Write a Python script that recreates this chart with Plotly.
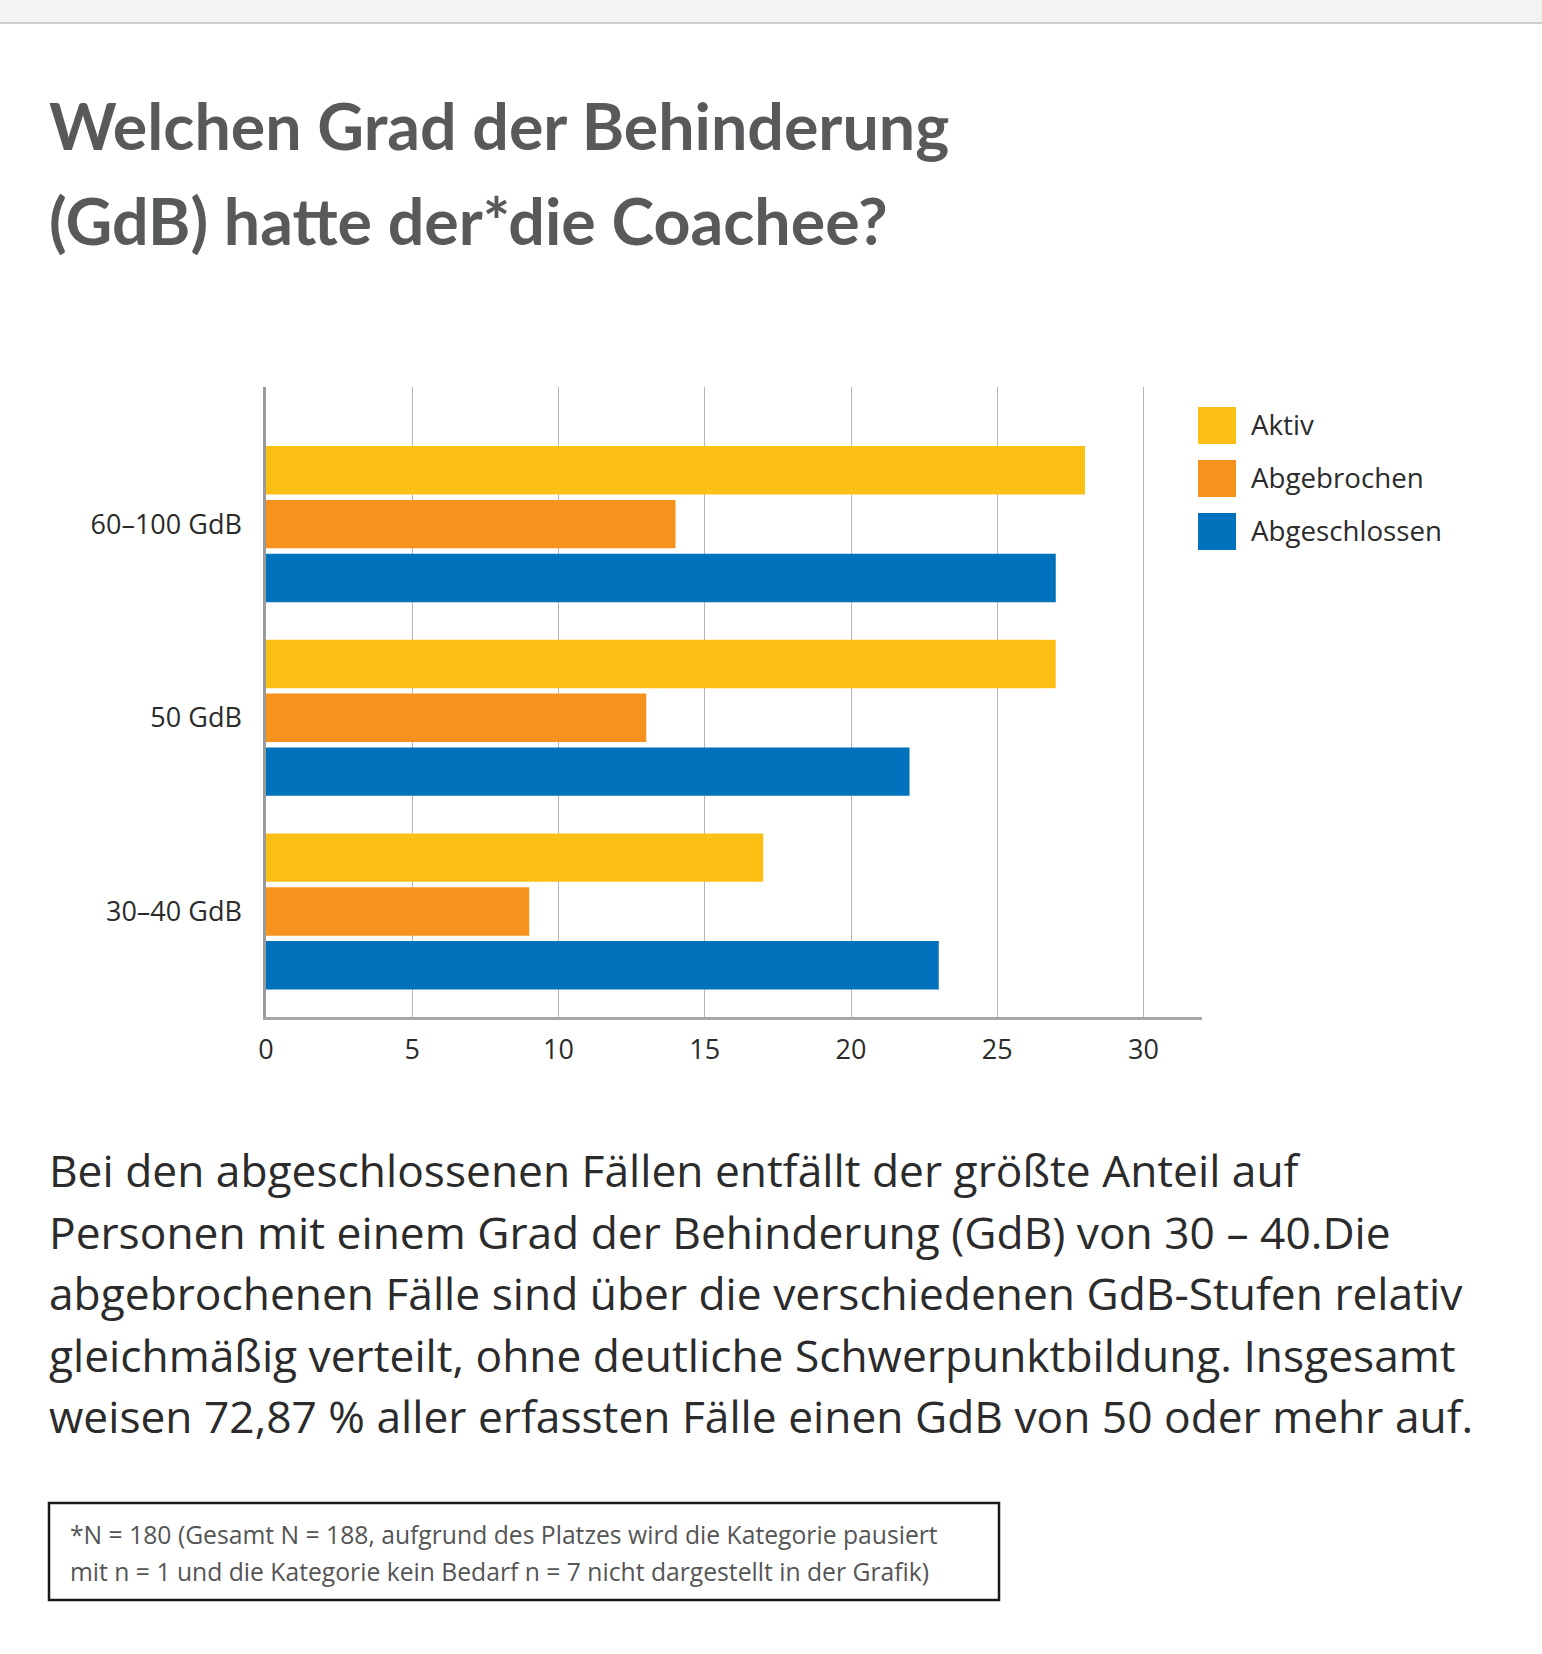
import plotly.graph_objects as go

categories = ["30–40 GdB", "50 GdB", "60–100 GdB"]
aktiv = [17, 27, 28]
abgebrochen = [9, 13, 14]
abgeschlossen = [23, 22, 27]
series_names = ["Aktiv", "Abgebrochen", "Abgeschlossen"]
series_colors = ["#fcc014", "#f6921e", "#0072bc"]
x_ticks = [0, 5, 10, 15, 20, 25, 30]

title_lines = ["Welchen Grad der Behinderung", "(GdB) hatte der*die Coachee?"]
body_lines = [
    "Bei den abgeschlossenen Fällen entfällt der größte Anteil auf",
    "Personen mit einem Grad der Behinderung (GdB) von 30 – 40.Die",
    "abgebrochenen Fälle sind über die verschiedenen GdB-Stufen relativ",
    "gleichmäßig verteilt, ohne deutliche Schwerpunktbildung. Insgesamt",
    "weisen 72,87 % aller erfassten Fälle einen GdB von 50 oder mehr auf.",
]
note_lines = [
    "*N = 180 (Gesamt N = 188, aufgrund des Platzes wird die Kategorie pausiert",
    "mit n = 1 und die Kategorie kein Bedarf n = 7 nicht dargestellt in der Grafik)",
]

W, H = 1542, 1654
L, R, T, B = 266, 340, 387, 637
PW, PH = W - L - R, H - T - B
FONT = "Open Sans"
TFONT = "Lato"


def px(x):
    return (x - L) / PW


def py(y):
    return (H - B - y) / PH


values = {"Aktiv": aktiv, "Abgebrochen": abgebrochen, "Abgeschlossen": abgeschlossen}
fig = go.Figure()
for name, color in reversed(list(zip(series_names, series_colors))):
    fig.add_trace(go.Bar(
        y=categories, x=values[name], name=name, orientation="h",
        marker=dict(color=color, line=dict(width=0)), showlegend=False,
    ))

shapes = []
annotations = []

# top grey strip
shapes.append(dict(type="rect", xref="paper", yref="paper", x0=px(0), x1=px(W),
                   y0=py(23), y1=py(0), fillcolor="#f3f3f3", line=dict(width=0), layer="below"))
shapes.append(dict(type="line", xref="paper", yref="paper", x0=px(0), x1=px(W),
                   y0=py(23), y1=py(23), line=dict(color="#cfcfcf", width=2)))

# title
for i, t in enumerate(title_lines):
    annotations.append(dict(text=t, xref="paper", yref="paper", x=px(47), y=py(125 + 95 * i),
                            xanchor="left", yanchor="middle", showarrow=False,
                            font=dict(family=TFONT, size=64.5, color="#58595b", weight="bold")))

# legend
for i, (name, color) in enumerate(zip(series_names, series_colors)):
    y0 = 407 + 53 * i
    shapes.append(dict(type="rect", xref="paper", yref="paper", x0=px(1198), x1=px(1236),
                       y0=py(y0 + 37), y1=py(y0), fillcolor=color, line=dict(width=0)))
    annotations.append(dict(text=name, xref="paper", yref="paper", x=px(1249), y=py(y0 + 17),
                            xanchor="left", yanchor="middle", showarrow=False,
                            font=dict(family=FONT, size=27.7, color="#2b2b2b")))

# body text
for i, t in enumerate(body_lines):
    annotations.append(dict(text=t, xref="paper", yref="paper", x=px(47), y=py(1170 + 61.5 * i),
                            xanchor="left", yanchor="middle", showarrow=False,
                            font=dict(family=FONT, size=44.3, color="#2b2b2b")))

# footnote box
shapes.append(dict(type="rect", xref="paper", yref="paper", x0=px(49), x1=px(999),
                   y0=py(1600), y1=py(1503), line=dict(color="#1a1a1a", width=2.5)))
for i, t in enumerate(note_lines):
    annotations.append(dict(text=t, xref="paper", yref="paper", x=px(68), y=py(1534 + 37 * i),
                            xanchor="left", yanchor="middle", showarrow=False,
                            font=dict(family=FONT, size=24.7, color="#555555")))

fig.update_layout(
    width=W, height=H,
    margin=dict(l=L, r=R, t=T, b=B, pad=0),
    paper_bgcolor="white", plot_bgcolor="white",
    barmode="group", bargap=0.166, bargroupgap=0.1,
    shapes=shapes, annotations=annotations,
    font=dict(family=FONT, size=27, color="#2b2b2b"),
)
fig.update_xaxes(
    range=[0, 32], tickvals=x_ticks, ticktext=[str(v) for v in x_ticks],
    showgrid=True, gridcolor="#b5b5b5", gridwidth=1,
    showline=True, linecolor="#a6a6a6", linewidth=2.5,
    zeroline=False, ticks="outside", ticklen=7, tickcolor="rgba(0,0,0,0)",
    tickfont=dict(family=FONT, size=27, color="#2b2b2b"),
    fixedrange=True,
)
fig.update_yaxes(
    range=[-0.545, 2.708], type="category", categoryorder="array", categoryarray=categories,
    showgrid=False, showline=True, linecolor="#9a9a9a", linewidth=2.5,
    ticks="outside", ticklen=16, tickcolor="rgba(0,0,0,0)",
    tickfont=dict(family=FONT, size=27, color="#2b2b2b"),
    fixedrange=True,
)

fig.write_html("out.html", config={"displayModeBar": False},
               post_script="document.body.style.margin='0';document.body.style.overflow='hidden';")
